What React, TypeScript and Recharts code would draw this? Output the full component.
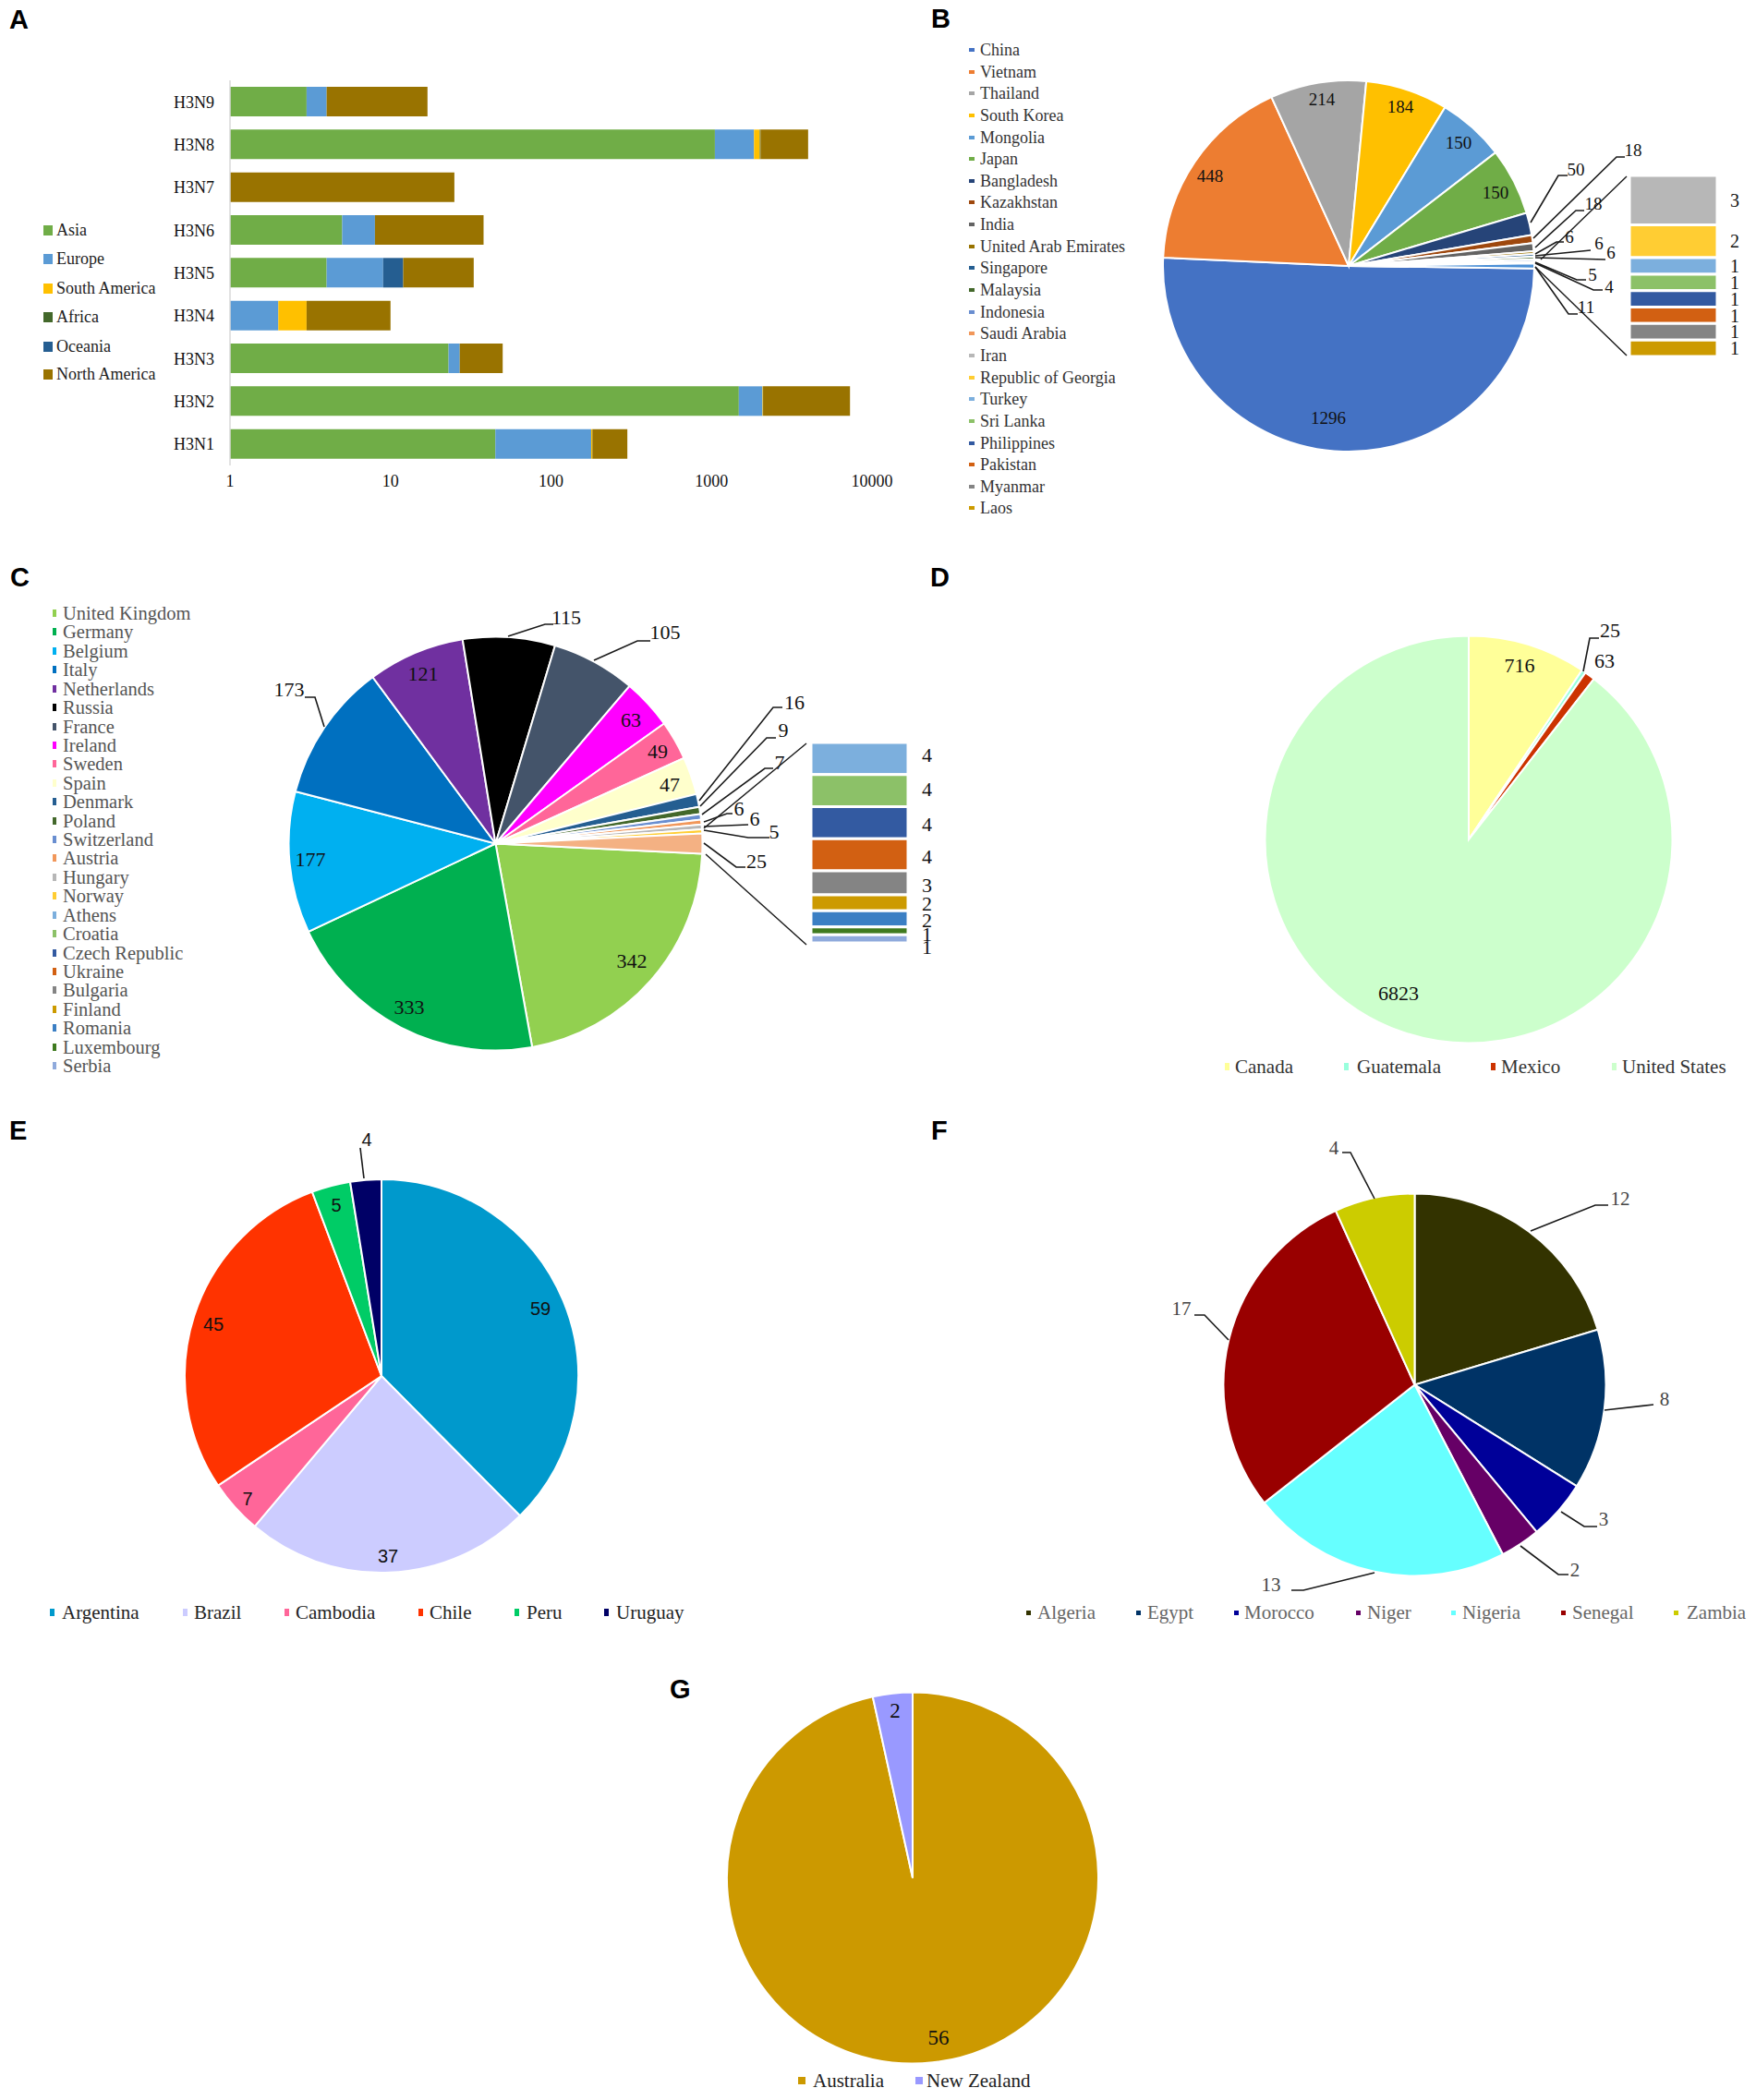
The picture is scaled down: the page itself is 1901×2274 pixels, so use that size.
import { BarChart, Bar, XAxis, YAxis, LabelList, PieChart, Pie, Cell } from 'recharts';

const SERIF = '"Liberation Serif", serif';
const SANS = '"Liberation Sans", sans-serif';

// Panel A - subtype by continent
const subtypes = ['H3N9', 'H3N8', 'H3N7', 'H3N6', 'H3N5', 'H3N4', 'H3N3', 'H3N2', 'H3N1'];
const continents = ['Asia', 'Europe', 'South America', 'Africa', 'Oceania', 'North America'];
const continentColors = ['#70AD47', '#5B9BD5', '#FFC000', '#43682B', '#255E91', '#997300'];
const asia = [3, 1050, 0, 5, 4, 0, 23, 1480, 45];
const europe = [1, 790, 0, 3, 5, 2, 4, 600, 133];
const southAmerica = [0, 160, 0, 0, 0, 1, 0, 15, 3];
const africa = [0, 20, 0, 0, 0, 0, 0, 0, 0];
const oceania = [0, 0, 0, 0, 3, 0, 0, 0, 0];
const northAmerica = [13, 1980, 25, 30, 21, 7, 23, 5200, 118];
const logTicks = [1, 10, 100, 1000, 10000];
const continentSeries = [asia, europe, southAmerica, africa, oceania, northAmerica];

// Panel B - Asia
const asiaNames = ['China', 'Vietnam', 'Thailand', 'South Korea', 'Mongolia', 'Japan', 'Bangladesh', 'Kazakhstan', 'India', 'United Arab Emirates', 'Singapore', 'Malaysia', 'Indonesia', 'Saudi Arabia', 'Iran', 'Republic of Georgia', 'Turkey', 'Sri Lanka', 'Philippines', 'Pakistan', 'Myanmar', 'Laos'];
const asiaColors = ['#4472C4', '#ED7D31', '#A5A5A5', '#FFC000', '#5B9BD5', '#70AD47', '#264478', '#9E480E', '#636363', '#997300', '#255E91', '#43682B', '#698ED0', '#F1975A', '#B7B7B7', '#FFCD33', '#7CAFDD', '#8CC168', '#335AA1', '#D26012', '#848484', '#CC9A00'];
const asiaValues = [1296, 448, 214, 184, 150, 150, 50, 18, 18, 6, 6, 6, 5, 4, 3, 2, 1, 1, 1, 1, 1, 1];
const asiaMainCount = 14;
const asiaOtherColor = '#4A8FD6';

// Panel C - Europe
const europeNames = ['United Kingdom', 'Germany', 'Belgium', 'Italy', 'Netherlands', 'Russia', 'France', 'Ireland', 'Sweden', 'Spain', 'Denmark', 'Poland', 'Switzerland', 'Austria', 'Hungary', 'Norway', 'Athens', 'Croatia', 'Czech Republic', 'Ukraine', 'Bulgaria', 'Finland', 'Romania', 'Luxembourg', 'Serbia'];
const europeColors = ['#92D050', '#00B050', '#00B0F0', '#0070C0', '#7030A0', '#000000', '#44546A', '#FF00FF', '#FF6699', '#FFFFCC', '#255E91', '#43682B', '#698ED0', '#F1975A', '#B7B7B7', '#FFCD33', '#7CAFDD', '#8CC168', '#335AA1', '#D26012', '#848484', '#CC9A00', '#3B7FC4', '#3F7A1F', '#8FAADC'];
const europeValues = [342, 333, 177, 173, 121, 115, 105, 63, 49, 47, 16, 9, 7, 6, 6, 5, 4, 4, 4, 4, 3, 2, 2, 1, 1];
const europeMainCount = 16;
const europeOtherColor = '#F4B183';

// Panel D - North America
const naNames = ['Canada', 'Guatemala', 'Mexico', 'United States'];
const naColors = ['#FFFF99', '#99FFDD', '#CC3300', '#CCFFCC'];
const naValues = [716, 25, 63, 6823];

// Panel E - South America
const saNames = ['Argentina', 'Brazil', 'Cambodia', 'Chile', 'Peru', 'Uruguay'];
const saColors = ['#0099CC', '#CCCCFF', '#FF6699', '#FF3300', '#00CC66', '#000066'];
const saValues = [59, 37, 7, 45, 5, 4];

// Panel F - Africa
const afNames = ['Algeria', 'Egypt', 'Morocco', 'Niger', 'Nigeria', 'Senegal', 'Zambia'];
const afColors = ['#333300', '#003366', '#000099', '#660066', '#66FFFF', '#990000', '#CCCC00'];
const afValues = [12, 8, 3, 2, 13, 17, 4];

// Panel G - Oceania
const ocNames = ['Australia', 'New Zealand'];
const ocColors = ['#CC9900', '#9999FF'];
const ocValues = [56, 2];

// label placement, page coordinates: [x, y, optional leader points]
type Spot = { x: number; y: number; line?: number[][] };

const asiaSpots: Spot[] = [
  { x: 1438, y: 452 }, { x: 1310, y: 190 }, { x: 1431, y: 107 }, { x: 1516, y: 115 }, { x: 1579, y: 154 }, { x: 1619, y: 208 },
  { x: 1706, y: 183, line: [[1657, 241], [1687, 190], [1697, 190]] },
  { x: 1768, y: 162, line: [[1660, 258], [1750, 170], [1759, 170]] },
  { x: 1725, y: 220, line: [[1662, 268], [1706, 228], [1715, 228]] },
  { x: 1699, y: 256, line: [[1662, 275], [1685, 262], [1693, 262]] },
  { x: 1731, y: 263, line: [[1662, 277], [1722, 271]] },
  { x: 1744, y: 273, line: [[1662, 279], [1738, 281]] },
  { x: 1724, y: 297, line: [[1662, 284], [1707, 303], [1717, 303]] },
  { x: 1742, y: 310, line: [[1662, 285], [1725, 314], [1735, 314]] },
  { x: 1717, y: 332, line: [[1662, 289], [1698, 340], [1708, 340]] },
];
const asiaSeriesLines = [[[1668, 281], [1761, 191]], [[1662, 289], [1761, 385]]];

const europeSpots: Spot[] = [
  { x: 684, y: 1040 }, { x: 443, y: 1090 }, { x: 336, y: 930 },
  { x: 313, y: 746, line: [[351, 787], [341, 755], [330, 755]] },
  { x: 458, y: 729 },
  { x: 613, y: 668, line: [[550, 689], [590, 676], [599, 676]] },
  { x: 720, y: 684, line: [[643, 715], [690, 694], [704, 694]] },
  { x: 683, y: 779 }, { x: 712, y: 813 }, { x: 725, y: 849 },
  { x: 860, y: 760, line: [[757, 867], [837, 766], [847, 766]] },
  { x: 848, y: 790, line: [[758, 873], [830, 799], [840, 799]] },
  { x: 844, y: 825, line: [[760, 882], [828, 832], [837, 832]] },
  { x: 800, y: 875, line: [[762, 890], [787, 881], [793, 881]] },
  { x: 817, y: 886, line: [[762, 895], [810, 893]] },
  { x: 838, y: 900, line: [[762, 899], [810, 907], [833, 907]] },
  { x: 819, y: 932, line: [[762, 913], [797, 939], [807, 939]] },
];
const europeSeriesLines = [[[762, 897], [873, 805]], [[764, 925], [873, 1023]]];
const europeColumnShift = [-4, -2, 1, 2, 2, 1, 1, 3, 9];

const naSpots: Spot[] = [
  { x: 1645, y: 720 },
  { x: 1743, y: 682, line: [[1714, 727], [1721, 691], [1731, 691]] },
  { x: 1737, y: 715 },
  { x: 1514, y: 1075 },
];
const saSpots: Spot[] = [
  { x: 585, y: 1417 }, { x: 420, y: 1685 }, { x: 268, y: 1623 }, { x: 231, y: 1434 }, { x: 364, y: 1305 },
  { x: 397, y: 1234, line: [[394, 1276], [390, 1243]] },
];
const afSpots: Spot[] = [
  { x: 1754, y: 1298, line: [[1657, 1333], [1727, 1305], [1741, 1305]] },
  { x: 1802, y: 1515, line: [[1737, 1527], [1790, 1521]] },
  { x: 1736, y: 1645, line: [[1690, 1637], [1715, 1653], [1729, 1653]] },
  { x: 1705, y: 1700, line: [[1646, 1674], [1687, 1705], [1698, 1705]] },
  { x: 1376, y: 1716, line: [[1488, 1703], [1411, 1722], [1398, 1722]] },
  { x: 1279, y: 1417, line: [[1330, 1451], [1304, 1424], [1293, 1424]] },
  { x: 1444, y: 1243, line: [[1488, 1298], [1462, 1248], [1453, 1248]] },
];
const ocSpots: Spot[] = [{ x: 1016, y: 2206 }, { x: 969, y: 1852 }];

const sum = (xs: number[]) => xs.reduce((a, b) => a + b, 0);

function Letter({ text, x, y }: any) {
  return (
    <div style={{ position: 'absolute', left: x, top: y - 27, fontFamily: SANS, fontWeight: 700, fontSize: 29, lineHeight: '33px', color: '#000' }}>
      {text}
    </div>
  );
}

// legend: swatch + text at given spots
function Key({ names, colors, spots, y, sw, fontSize, color }: any) {
  return (
    <>
      {names.map((name: string, i: number) => {
        const s = spots[i];
        const cy = Array.isArray(y) ? y[i] : y;
        return (
          <div key={name}>
            <div style={{ position: 'absolute', left: s[0], top: cy - sw[1] / 2, width: sw[0], height: sw[1], background: colors[i] }} />
            <div style={{ position: 'absolute', left: s[1], top: cy, transform: 'translateY(-50%)', fontFamily: SERIF, fontSize, color, whiteSpace: 'nowrap', lineHeight: 1 }}>
              {name}
            </div>
          </div>
        );
      })}
    </>
  );
}

function PiePanel({ box, center, r, values, names, colors, startAngle, spots, seriesLines, fontSize, font = SERIF, labelColor = '#111' }: any) {
  const [left, top, width, height] = box;
  const data = values.map((v: number, i: number) => ({ name: names[i], value: v }));
  const toPts = (pts: number[][]) => pts.map((p) => `${p[0] - left},${p[1] - top}`).join(' ');
  const renderLabel = (p: any) => {
    const spot = spots[p.index];
    return (
      <g key={p.index}>
        {spot.line && <polyline points={toPts(spot.line)} fill="none" stroke="#1a1a1a" strokeWidth={1.6} />}
        <text x={spot.x - left} y={spot.y - top} textAnchor="middle" dominantBaseline="central" fontFamily={font} fontSize={fontSize} fill={labelColor}>
          {p.value}
        </text>
      </g>
    );
  };
  return (
    <div style={{ position: 'absolute', left, top }}>
      <PieChart width={width} height={height} margin={{ top: 0, right: 0, bottom: 0, left: 0 }}>
        <Pie
          data={data}
          dataKey="value"
          nameKey="name"
          cx={center[0] - left}
          cy={center[1] - top}
          outerRadius={r}
          startAngle={startAngle}
          endAngle={startAngle - 360}
          stroke="#ffffff"
          strokeWidth={2}
          label={renderLabel}
          labelLine={false}
          isAnimationActive={false}
        >
          {data.map((d: any, i: number) => (
            <Cell key={d.name} fill={colors[i]} />
          ))}
        </Pie>
        {(seriesLines || []).map((pts: number[][], i: number) => (
          <polyline key={i} points={toPts(pts)} fill="none" stroke="#1a1a1a" strokeWidth={1.4} />
        ))}
      </PieChart>
    </div>
  );
}

// the "other" column beside a bar-of-pie
function OtherColumn({ x, y, w, h, values, names, colors, fontSize, offset, shift }: any) {
  const row: any = { name: 'Other' };
  names.forEach((n: string, i: number) => { row[n] = values[i]; });
  return (
    <div style={{ position: 'absolute', left: x, top: y - 14 }}>
      <BarChart width={w + 50} height={h + 40} data={[row]} margin={{ top: 14, right: 50, bottom: 26, left: 0 }} barCategoryGap={0}>
        <XAxis type="category" dataKey="name" hide />
        <YAxis type="number" hide reversed domain={[0, sum(values)]} />
        {names.map((n: string, i: number) => (
          <Bar key={n} dataKey={n} stackId="o" fill={colors[i]} stroke="#ffffff" strokeWidth={3} isAnimationActive={false}>
            <LabelList dataKey={n} position="right" offset={offset} dy={shift ? shift[i] : 0} fontFamily={SERIF} fontSize={fontSize} fill="#111" />
          </Bar>
        ))}
      </BarChart>
    </div>
  );
}

const subtypeRows = subtypes.map((name, i) => {
  const row: any = { name };
  continents.forEach((c, j) => { row[c] = continentSeries[j][i]; });
  return row;
});

const columnSpots = (n: number, sx: number, tx: number) => Array.from({ length: n }, () => [sx, tx]);
const rows = (n: number, first: number, step: number) => Array.from({ length: n }, (_, i) => first + i * step);

export default function App() {
  return (
    <div style={{ position: 'absolute', left: 0, top: 0, width: 1901, height: 2274, background: '#fff', overflow: 'hidden' }}>
      <Letter text="A" x={10} y={32} />
      <Letter text="B" x={1008} y={31} />
      <Letter text="C" x={11} y={636} />
      <Letter text="D" x={1007} y={636} />
      <Letter text="E" x={10} y={1235} />
      <Letter text="F" x={1008} y={1235} />
      <Letter text="G" x={725} y={1840} />

      {/* A */}
      <div style={{ position: 'absolute', left: 130, top: 60 }}>
        <BarChart width={860} height={490} layout="vertical" data={subtypeRows} margin={{ top: 27, right: 46, bottom: 16, left: 0 }}>
          <XAxis
            type="number"
            scale="log"
            domain={[1, 10000]}
            ticks={logTicks}
            allowDataOverflow
            interval={0}
            height={30}
            axisLine={false}
            tickLine={false}
            tick={{ fontFamily: SERIF, fontSize: 18, fill: '#111' }}
            tickMargin={4}
          />
          <YAxis
            type="category"
            dataKey="name"
            width={119}
            interval={0}
            axisLine={{ stroke: '#D9D9D9', strokeWidth: 1.5 }}
            tickLine={false}
            tickSize={0}
            tickMargin={17}
            tick={{ fontFamily: SERIF, fontSize: 18, fill: '#111' }}
          />
          {continents.map((c, i) => (
            <Bar key={c} dataKey={c} stackId="a" barSize={32} fill={continentColors[i]} isAnimationActive={false} />
          ))}
        </BarChart>
      </div>
      <Key names={continents} colors={continentColors} spots={columnSpots(6, 47, 61)} y={[249, 280, 312, 343, 375, 405]} sw={[10, 11]} fontSize={18} color="#222" />

      {/* B */}
      <Key names={asiaNames} colors={asiaColors} spots={columnSpots(22, 1049, 1061)} y={rows(22, 54, 23.64)} sw={[6, 4]} fontSize={18} color="#333" />
      <PiePanel
        box={[1240, 60, 620, 480]}
        center={[1460, 288]}
        r={201}
        values={[...asiaValues.slice(0, asiaMainCount), sum(asiaValues.slice(asiaMainCount))]}
        names={[...asiaNames.slice(0, asiaMainCount), 'Other']}
        colors={[...asiaColors.slice(0, asiaMainCount), asiaOtherColor]}
        startAngle={-0.77}
        spots={asiaSpots}
        seriesLines={asiaSeriesLines}
        fontSize={19}
      />
      <OtherColumn x={1764} y={190} w={95} h={196} values={asiaValues.slice(asiaMainCount)} names={asiaNames.slice(asiaMainCount)} colors={asiaColors.slice(asiaMainCount)} fontSize={20} offset={14} />

      {/* C */}
      <Key names={europeNames} colors={europeColors} spots={columnSpots(25, 57, 68)} y={rows(25, 664, 20.42)} sw={[3.5, 8]} fontSize={20.5} color="#555" />
      <PiePanel
        box={[280, 640, 620, 520]}
        center={[536.5, 913.5]}
        r={224}
        values={[...europeValues.slice(0, europeMainCount), sum(europeValues.slice(europeMainCount))]}
        names={[...europeNames.slice(0, europeMainCount), 'Other']}
        colors={[...europeColors.slice(0, europeMainCount), europeOtherColor]}
        startAngle={-2.81}
        spots={europeSpots}
        seriesLines={europeSeriesLines}
        fontSize={22}
      />
      <OtherColumn x={878} y={804} w={105} h={217} values={europeValues.slice(europeMainCount)} names={europeNames.slice(europeMainCount)} colors={europeColors.slice(europeMainCount)} fontSize={22} offset={15} shift={europeColumnShift} />

      {/* D */}
      <PiePanel box={[1340, 660, 490, 480]} center={[1590, 909]} r={220.5} values={naValues} names={naNames} colors={naColors} startAngle={90} spots={naSpots} fontSize={22} />
      <Key names={naNames} colors={naColors} spots={[[1326, 1337], [1455, 1469], [1614, 1625], [1745, 1756]]} y={1155} sw={[5, 8]} fontSize={21} color="#333" />

      {/* E */}
      <PiePanel box={[180, 1210, 470, 510]} center={[413, 1490]} r={213} values={saValues} names={saNames} colors={saColors} startAngle={90} spots={saSpots} fontSize={20} font={SANS} />
      <Key names={saNames} colors={saColors} spots={[[54, 67], [198, 210], [308, 320], [453, 465], [557, 570], [654, 667]]} y={1746} sw={[5, 8]} fontSize={21} color="#222" />

      {/* F */}
      <PiePanel box={[1260, 1220, 570, 510]} center={[1531.5, 1499.5]} r={207} values={afValues} names={afNames} colors={afColors} startAngle={90} spots={afSpots} fontSize={21} labelColor="#444" />
      <Key names={afNames} colors={afColors} spots={[[1111, 1123], [1230, 1242], [1336, 1347], [1468, 1480], [1571, 1583], [1690, 1702], [1812, 1826]]} y={1746} sw={[5, 5]} fontSize={21} color="#666" />

      {/* G */}
      <PiePanel box={[770, 1815, 440, 430]} center={[988, 2033.5]} r={201} values={ocValues} names={ocNames} colors={ocColors} startAngle={90} spots={ocSpots} fontSize={23} />
      <Key names={ocNames} colors={ocColors} spots={[[864, 880], [991, 1003]]} y={2253} sw={[8, 8]} fontSize={21} color="#222" />
    </div>
  );
}
